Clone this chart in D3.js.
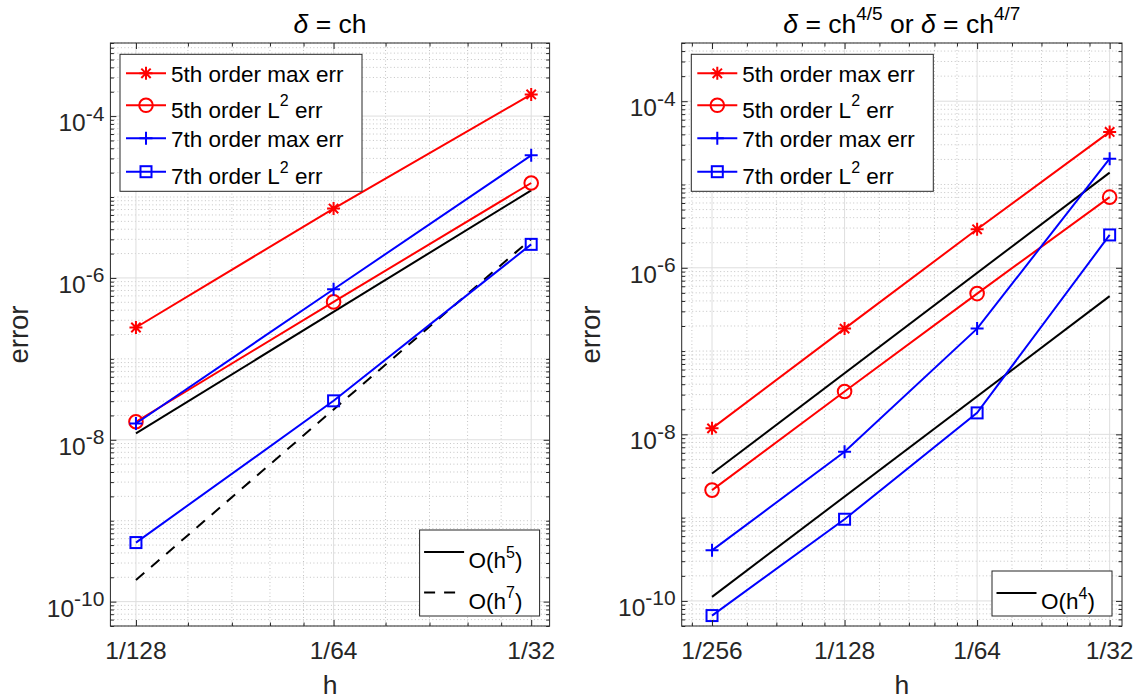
<!DOCTYPE html>
<html><head><meta charset="utf-8">
<script src="https://cdn.jsdelivr.net/npm/d3@7"></script>
<style>html,body{margin:0;padding:0;background:#fff;} svg{display:block;}</style>
</head><body>
<svg id="chart" width="1133" height="700"></svg>
<script>
// ---------- data ----------
const hLeft = [1/128, 1/64, 1/32];
const hRight = [1/256, 1/128, 1/64, 1/32];

const xTicksLeft = [1/128, 1/64, 1/32];
const xTickLabelsLeft = ["1/128", "1/64", "1/32"];
const xTicksRight = [1/256, 1/128, 1/64, 1/32];
const xTickLabelsRight = ["1/256", "1/128", "1/64", "1/32"];
const yTicks = [1e-4, 1e-6, 1e-8, 1e-10];
const yTickLabels = ["10^{-4}", "10^{-6}", "10^{-8}", "10^{-10}"];

// left panel: delta = c h
const left5Max = [2.44e-7, 7.2e-6, 1.85e-4];
const left5L2  = [1.67e-8, 5.06e-7, 1.49e-5];
const left7Max = [1.59e-8, 7.24e-7, 3.27e-5];
const left7L2  = [5.37e-10, 3.03e-8, 2.6e-6];
const leftRefH = [1/128, 1/32];
const leftO5   = [1.2e-8, 1.21e-5];
const leftO7   = [1.85e-10, 3.03e-6];

// right panel: delta = c h^{4/5} or c h^{4/7}
const right5Max = [1.18e-8, 1.86e-7, 2.9e-6, 4.28e-5];
const right5L2  = [2.14e-9, 3.27e-8, 4.9e-7, 7.05e-6];
const right7Max = [4.05e-10, 6.18e-9, 1.86e-7, 2.04e-5];
const right7L2  = [6.67e-11, 9.57e-10, 1.81e-8, 2.48e-6];
const rightRefH = [1/256, 1/32];
const rightO4a  = [3.39e-9, 1.39e-5];
const rightO4b  = [1.12e-10, 4.57e-7];

const seriesLabels = ["5th order max err", "5th order L^2 err", "7th order max err", "7th order L^2 err"];
const seriesColors = ["#ff0000", "#ff0000", "#0000ff", "#0000ff"];
const seriesMarkers = ["asterisk", "circle", "plus", "square"];

const titles = ["δ = ch", "δ = ch^{4/5} or δ = ch^{4/7}"];
const xLabel = "h";
const yLabel = "error";

// ---------- drawing ----------
const FONT = '"Liberation Sans", Arial, Helvetica, sans-serif';
const AX = "#262626";
const svg = d3.select("#chart");

function richText(sel, str, size, supSize, rise) {
  const re = /\^\{([^}]*)\}|\^(\S)/g;
  const segs = [];
  let last = 0, m;
  while ((m = re.exec(str)) !== null) {
    if (m.index > last) segs.push({t: str.slice(last, m.index), sup: false});
    segs.push({t: m[1] !== undefined ? m[1] : m[2], sup: true});
    last = re.lastIndex;
  }
  if (last < str.length) segs.push({t: str.slice(last), sup: false});
  let up = false;
  segs.forEach(s => {
    const parts = s.sup ? [s.t] : s.t.split(/(δ)/).filter(p => p.length);
    parts.forEach((p, i) => {
      const ts = sel.append("tspan").text(p)
        .attr("font-size", s.sup ? supSize : size)
        .attr("xml:space", "preserve");
      if (p === "δ") ts.attr("font-style", "italic");
      if (i === 0) {
        if (s.sup && !up) { ts.attr("dy", -rise); up = true; }
        else if (!s.sup && up) { ts.attr("dy", rise); up = false; }
      }
    });
  });
  sel.style("white-space", "pre");
  return sel;
}

function marker(g, type, cx, cy, color) {
  const s = 6.5;
  if (type === "circle") {
    g.append("circle").attr("cx", cx).attr("cy", cy).attr("r", 6.8)
      .attr("fill", "none").attr("stroke", color).attr("stroke-width", 2);
  } else if (type === "square") {
    g.append("rect").attr("x", cx - 5.5).attr("y", cy - 5.5).attr("width", 11).attr("height", 11)
      .attr("fill", "none").attr("stroke", color).attr("stroke-width", 2);
  } else if (type === "plus") {
    g.append("path").attr("d", `M${cx-s},${cy}L${cx+s},${cy}M${cx},${cy-s}L${cx},${cy+s}`)
      .attr("stroke", color).attr("stroke-width", 2);
  } else {
    const d = s * 0.72;
    g.append("path").attr("d", `M${cx-s},${cy}L${cx+s},${cy}M${cx},${cy-s}L${cx},${cy+s}M${cx-d},${cy-d}L${cx+d},${cy+d}M${cx-d},${cy+d}L${cx+d},${cy-d}`)
      .attr("stroke", color).attr("stroke-width", 2);
  }
}

function panel(cfg) {
  const g = svg.append("g");
  const x = d3.scaleLog().domain(cfg.xDomain).range([cfg.left, cfg.right]);
  const y = d3.scaleLog().domain(cfg.yDomain).range([cfg.bottom, cfg.top]);
  const inX = v => v >= cfg.xDomain[0] * 0.9999 && v <= cfg.xDomain[1] * 1.0001;
  const inY = v => v >= cfg.yDomain[0] * 0.9999 && v <= cfg.yDomain[1] * 1.0001;

  // minor ticks
  const xMinor = [];
  for (let i = -1; i < cfg.xTicks.length; i++) {
    const a = i < 0 ? cfg.xTicks[0] / 2 : cfg.xTicks[i];
    [1.2, 1.4, 1.6, 1.8].forEach(mf => { const v = a * mf; if (inX(v) && !cfg.xTicks.some(t => Math.abs(t - v) / t < 1e-6)) xMinor.push(v); });
  }
  const yMinor = [];
  for (let n = -12; n <= -2; n++) for (let k = 1; k <= 9; k++) {
    const v = k * Math.pow(10, n);
    if (inY(v) && !cfg.yTicks.some(t => Math.abs(t - v) / t < 1e-6)) yMinor.push(v);
  }

  // grid
  const grid = g.append("g");
  grid.selectAll(".gxm").data(xMinor).join("line")
    .attr("x1", d => x(d)).attr("x2", d => x(d)).attr("y1", cfg.top).attr("y2", cfg.bottom)
    .attr("stroke", "#c4c4c4").attr("stroke-width", 1).attr("stroke-dasharray", "1,2.5");
  grid.selectAll(".gym").data(yMinor).join("line")
    .attr("y1", d => y(d)).attr("y2", d => y(d)).attr("x1", cfg.left).attr("x2", cfg.right)
    .attr("stroke", "#c4c4c4").attr("stroke-width", 1).attr("stroke-dasharray", "1,2.5");
  grid.selectAll(".gx").data(cfg.xTicks).join("line")
    .attr("x1", d => x(d)).attr("x2", d => x(d)).attr("y1", cfg.top).attr("y2", cfg.bottom)
    .attr("stroke", "#dedede").attr("stroke-width", 1);
  grid.selectAll(".gy").data(cfg.yTicks).join("line")
    .attr("y1", d => y(d)).attr("y2", d => y(d)).attr("x1", cfg.left).attr("x2", cfg.right)
    .attr("stroke", "#dedede").attr("stroke-width", 1);

  // reference lines
  const line = d3.line().x(d => x(d[0])).y(d => y(d[1]));
  cfg.refs.forEach(r => {
    g.append("path").attr("d", line(r.h.map((h, i) => [h, r.v[i]])))
      .attr("fill", "none").attr("stroke", "#000").attr("stroke-width", 2)
      .attr("stroke-dasharray", r.dash ? "11,9" : null);
  });
  // data series
  cfg.series.forEach((s, si) => {
    const pts = cfg.h.map((h, i) => [h, s[i]]);
    g.append("path").attr("d", line(pts)).attr("fill", "none")
      .attr("stroke", seriesColors[si]).attr("stroke-width", 2);
    pts.forEach(p => marker(g, seriesMarkers[si], x(p[0]), y(p[1]), seriesColors[si]));
  });

  // box and ticks via d3 axes
  const W = cfg.right - cfg.left, H = cfg.bottom - cfg.top;
  const styleAxis = a => { a.select(".domain").remove(); a.selectAll("line").attr("stroke", AX); };
  const mk = (axisFn, scale, vals, len, tx, ty) => {
    const a = g.append("g").attr("transform", `translate(${tx},${ty})`)
      .call(axisFn(scale).tickValues(vals).tickSize(-len).tickFormat(""));
    styleAxis(a);
  };
  mk(d3.axisBottom, x, cfg.xTicks, 6, 0, cfg.bottom);
  mk(d3.axisBottom, x, xMinor, 3.5, 0, cfg.bottom);
  mk(d3.axisTop, x, cfg.xTicks, 6, 0, cfg.top);
  mk(d3.axisTop, x, xMinor, 3.5, 0, cfg.top);
  mk(d3.axisLeft, y, cfg.yTicks, 6, cfg.left, 0);
  mk(d3.axisLeft, y, yMinor, 3.5, cfg.left, 0);
  mk(d3.axisRight, y, cfg.yTicks, 6, cfg.right, 0);
  mk(d3.axisRight, y, yMinor, 3.5, cfg.right, 0);
  g.append("rect").attr("x", cfg.left).attr("y", cfg.top).attr("width", W).attr("height", H)
    .attr("fill", "none").attr("stroke", AX).attr("stroke-width", 1);

  // tick labels
  cfg.xTicks.forEach((t, i) => {
    g.append("text").attr("x", x(t)).attr("y", cfg.bottom + 33).attr("text-anchor", "middle")
      .attr("font-family", FONT).attr("font-size", 24.5).attr("fill", AX).text(cfg.xTickLabels[i]);
  });
  cfg.yTicks.forEach((t, i) => {
    const tx = g.append("text").attr("x", cfg.left - 6).attr("y", y(t) + 15).attr("text-anchor", "end")
      .attr("font-family", FONT).attr("fill", AX);
    richText(tx, yTickLabels[i], 24.5, 21, 10.5);
  });

  // axis labels
  g.append("text").attr("x", (cfg.left + cfg.right) / 2).attr("y", 694).attr("text-anchor", "middle")
    .attr("font-family", FONT).attr("font-size", 26.5).attr("fill", AX).text(xLabel);
  g.append("text").attr("transform", `translate(${cfg.left - 82},${(cfg.top + cfg.bottom) / 2}) rotate(-90)`)
    .attr("text-anchor", "middle").attr("font-family", FONT).attr("font-size", 27.5).attr("fill", AX).text(yLabel);
  // title
  const tt = g.append("text").attr("x", (cfg.left + cfg.right) / 2).attr("y", 33).attr("text-anchor", "middle")
    .attr("font-family", FONT).attr("fill", "#000");
  richText(tt, cfg.title, 26.5, 19, 13);

  // main legend
  const lx = cfg.left + 9.6, ly = cfg.top + 11.3;
  const lg = g.append("g");
  lg.append("rect").attr("x", lx).attr("y", ly).attr("width", 242).attr("height", 137)
    .attr("fill", "#fff").attr("stroke", AX).attr("stroke-width", 1);
  const rowY = [19, 51, 84, 117.4];
  seriesLabels.forEach((lab, i) => {
    const yy = ly + rowY[i];
    lg.append("line").attr("x1", lx + 6).attr("x2", lx + 46).attr("y1", yy).attr("y2", yy)
      .attr("stroke", seriesColors[i]).attr("stroke-width", 2);
    marker(lg, seriesMarkers[i], lx + 26, yy, seriesColors[i]);
    const hasSup = lab.indexOf("^") >= 0;
    const t = lg.append("text").attr("x", lx + 51).attr("y", yy + (hasSup ? 12.5 : 8.3))
      .attr("font-family", FONT).attr("fill", "#000");
    richText(t, lab, 22.5, 16, 11.5);
  });

  // reference legend
  const rl = cfg.refLegend;
  const bw = 120, bh = rl.length === 2 ? 86 : 45;
  const bx = cfg.right - 10 - bw, by = cfg.bottom - 10 - bh;
  const rg = g.append("g");
  rg.append("rect").attr("x", bx).attr("y", by).attr("width", bw).attr("height", bh)
    .attr("fill", "#fff").attr("stroke", AX).attr("stroke-width", 1);
  rl.forEach((r, i) => {
    const yy = by + 22 + i * 40.5;
    rg.append("line").attr("x1", bx + 4.5).attr("x2", bx + 44.5).attr("y1", yy).attr("y2", yy)
      .attr("stroke", "#000").attr("stroke-width", 2).attr("stroke-dasharray", r.dash ? "11,9" : null);
    const t = rg.append("text").attr("x", bx + 49).attr("y", yy + 16.3)
      .attr("font-family", FONT).attr("fill", "#000");
    richText(t, r.label, 22.5, 16, 10.5);
  });
}

panel({
  left: 110.4, right: 549.6, top: 43, bottom: 626,
  xDomain: [1/140, 1/30], yDomain: [5e-11, 8e-4],
  xTicks: xTicksLeft, xTickLabels: xTickLabelsLeft, yTicks: yTicks,
  h: hLeft, series: [left5Max, left5L2, left7Max, left7L2],
  refs: [{h: leftRefH, v: leftO5, dash: false}, {h: leftRefH, v: leftO7, dash: true}],
  refLegend: [{label: "O(h^5)", dash: false}, {label: "O(h^7)", dash: true}],
  title: titles[0]
});
panel({
  left: 681.7, right: 1122, top: 43, bottom: 626,
  xDomain: [1/300, 1/30], yDomain: [5e-11, 5e-4],
  xTicks: xTicksRight, xTickLabels: xTickLabelsRight, yTicks: yTicks,
  h: hRight, series: [right5Max, right5L2, right7Max, right7L2],
  refs: [{h: rightRefH, v: rightO4a, dash: false}, {h: rightRefH, v: rightO4b, dash: false}],
  refLegend: [{label: "O(h^4)", dash: false}],
  title: titles[1]
});
</script>
</body></html>
